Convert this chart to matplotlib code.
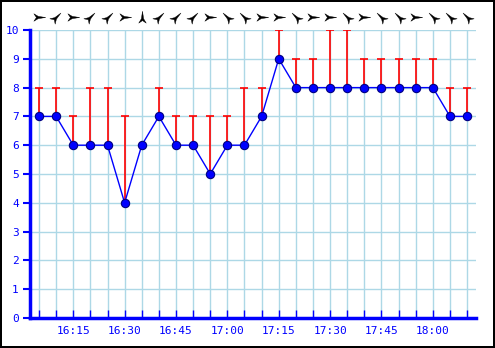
import matplotlib
matplotlib.use('Agg')
import matplotlib.pyplot as plt
from matplotlib.path import Path
from matplotlib.markers import MarkerStyle
from matplotlib.transforms import Affine2D, blended_transform_factory

# readings every 5 minutes, 16:05 .. 18:10
times = ['16:05', '16:10', '16:15', '16:20', '16:25', '16:30', '16:35', '16:40', '16:45',
         '16:50', '16:55', '17:00', '17:05', '17:10', '17:15', '17:20', '17:25', '17:30',
         '17:35', '17:40', '17:45', '17:50', '17:55', '18:00', '18:05', '18:10']
speed = [7, 7, 6, 6, 6, 4, 6, 7, 6, 6, 5, 6, 6, 7, 9, 8, 8, 8, 8, 8, 8, 8, 8, 8, 7, 7]
gust = [8, 8, 7, 8, 8, 7, 6, 8, 7, 7, 7, 7, 8, 8, 10, 9, 9, 10, 10, 9, 9, 9, 9, 9, 8, 8]
direction = ['E', 'NE', 'E', 'NE', 'NE', 'E', 'N', 'NE', 'NE', 'NE', 'E', 'NW', 'NW',
             'E', 'E', 'NW', 'E', 'E', 'NW', 'E', 'NW', 'NW', 'E', 'NW', 'NW', 'NW']
tick_labels = ['16:15', '16:30', '16:45', '17:00', '17:15', '17:30', '17:45', '18:00']


def to_min(t):
    h, m = t.split(':')
    return (int(h) - 16) * 60 + int(m)


x = [to_min(t) for t in times]
angles = {'E': 0, 'NE': 45, 'N': 90, 'NW': 135}

blue = '#0000ff'
grid_c = '#add8e6'

fig = plt.figure(figsize=(4.95, 3.48), dpi=100)
fig.patch.set_edgecolor('black')
fig.patch.set_linewidth(1.5)
ax = fig.add_axes([30 / 495, 1 - 318 / 348, 446 / 495, 288 / 348])

ax.set_xlim(2.37, 132.6)
ax.set_ylim(0, 10)

# grid
for xv in x:
    ax.axvline(xv, color=grid_c, lw=1, zorder=0)
for yv in range(1, 11):
    ax.axhline(yv, color=grid_c, lw=1, zorder=0)

# gusts
for xi, s, g in zip(x, speed, gust):
    if g > s:
        ax.vlines(xi, s, g, color='red', lw=1.2, zorder=2)
        ax.plot([xi], [g], marker='_', ms=6, mew=1.2, color='red', zorder=2)

ax.plot(x, speed, color=blue, lw=1, zorder=3)
ax.plot(x, speed, 'o', ms=6, mfc=blue, mec='#000080', mew=0.8, zorder=4)

# wind direction darts above the plot
dart = Path([(1, 0), (-0.2, 0.18), (-0.9, 0.6), (-0.5, 0), (-0.9, -0.6), (-0.2, -0.18), (1, 0)],
            [Path.MOVETO] + [Path.LINETO] * 5 + [Path.CLOSEPOLY])
trans = blended_transform_factory(ax.transData, ax.transAxes)
for xi, d in zip(x, direction):
    m = MarkerStyle(dart, transform=Affine2D().rotate_deg(angles[d]))
    ax.plot([xi], [1.045], marker=m, ms=9, color='black', mec='black', mew=0.3,
            transform=trans, clip_on=False)

for s in ['top', 'right']:
    ax.spines[s].set_visible(False)
ax.spines['left'].set_color(blue)
ax.spines['left'].set_linewidth(2.5)
ax.spines['bottom'].set_color(blue)
ax.spines['bottom'].set_linewidth(2.5)

ax.set_yticks(range(0, 11))
ax.tick_params(axis='y', colors=blue, length=5, width=1.5, labelsize=8, pad=3)
ax.set_xticks(x)
ax.set_xticklabels(['' for _ in x])
ax.tick_params(axis='x', direction='in', colors=blue, length=6, width=1)
trans_lab = blended_transform_factory(ax.transData, ax.transAxes)
for lab in tick_labels:
    ax.text(to_min(lab), -0.045, lab, transform=trans_lab, ha='center', va='center',
            color=blue, fontsize=8, family='DejaVu Sans Mono')
for lab in ax.get_yticklabels():
    lab.set_family('DejaVu Sans Mono')

fig.savefig('out.png', dpi=100)
